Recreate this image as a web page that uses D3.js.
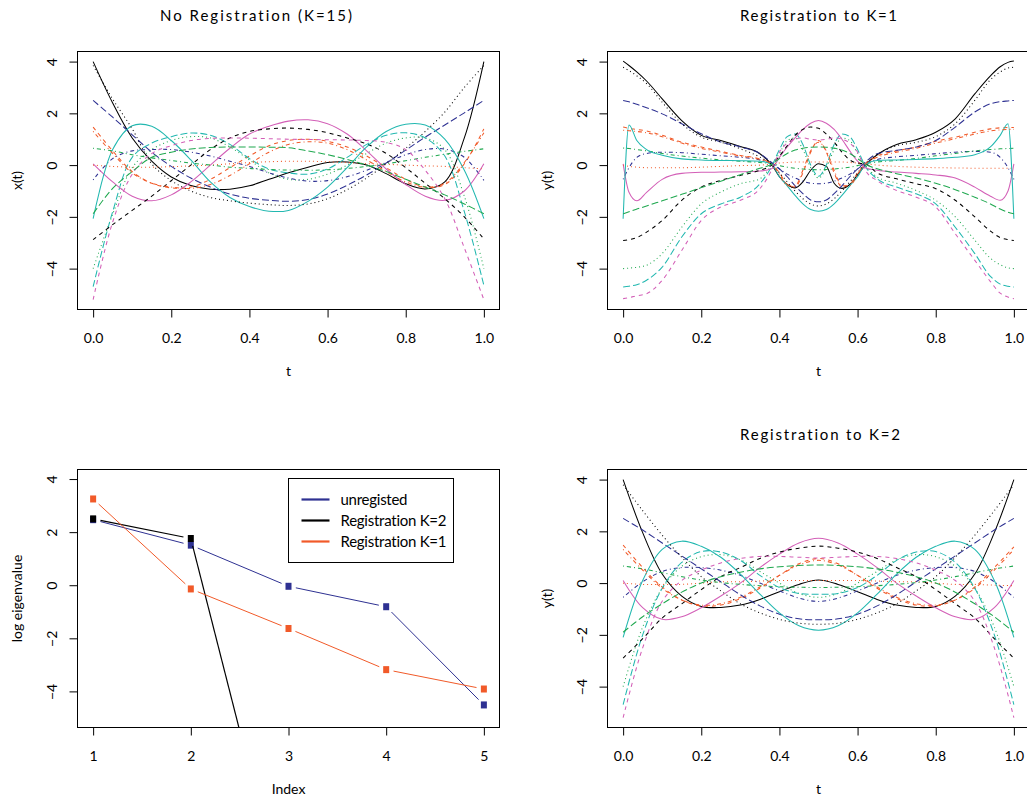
<!DOCTYPE html>
<html><head><meta charset="utf-8">
<script src="https://cdn.jsdelivr.net/npm/d3@7"></script>
<style>
body{margin:0;background:#fff}
svg{display:block}
text{font-family:Lato,"Open Sans",sans-serif;fill:#000;font-variant-ligatures:none;font-feature-settings:"liga" 0,"clig" 0}
</style>
</head><body>
<svg id="c" width="1027" height="796"></svg>
<script>
// ---------------- DATA ----------------
const tGrid = [0,0.05,0.1,0.15,0.2,0.25,0.3,0.35,0.4,0.45,0.5,0.55,0.6,0.65,0.7,0.75,0.8,0.85,0.9,0.95,1.0];
const tGridK1 = [0,0.015,0.035,0.06,0.1,0.15,0.2,0.25,0.3,0.35,0.38,0.4,0.42,0.44,0.46,0.48,0.5,0.52,0.54,0.56,0.58,0.6,0.62,0.65,0.7,0.75,0.8,0.85,0.9,0.94,0.965,0.985,1.0];
const xTicks = [0,0.2,0.4,0.6,0.8,1.0];
const yTicks = [-4,-2,0,2,4];

// No registration x(t), 15 curves
const noRegCurves = [
 [4.0,2.4,1.05,0.15,-0.46,-0.79,-0.93,-0.93,-0.8,-0.55,-0.3,-0.08,0.1,0.12,0.0,-0.33,-0.72,-0.92,-0.65,1.05,4.0],
 [1.47,0.55,-0.25,-0.7,-0.88,-0.85,-0.55,-0.1,0.35,0.75,0.95,1.0,0.92,0.7,0.35,-0.1,-0.55,-0.85,-0.75,0.05,1.4],
 [-4.0,-1.9,-0.1,0.6,0.95,1.1,1.05,0.7,0.2,-0.3,-0.55,-0.55,-0.35,0.0,0.45,0.85,1.05,1.05,0.6,-1.2,-4.0],
 [-0.57,0.25,0.55,0.6,0.6,0.5,0.35,0.15,-0.05,-0.3,-0.5,-0.62,-0.6,-0.45,-0.2,0.1,0.4,0.6,0.62,0.3,-0.59],
 [-4.7,-1.8,0.3,0.85,1.1,1.24,1.15,0.8,0.25,-0.15,-0.3,-0.35,-0.15,0.3,0.8,1.15,1.25,1.05,0.35,-1.8,-4.65],
 [0.05,-0.65,-1.2,-1.38,-1.15,-0.65,0.0,0.65,1.2,1.5,1.7,1.75,1.6,1.2,0.55,-0.15,-0.75,-1.2,-1.36,-1.0,0.05],
 [-2.88,-2.3,-1.75,-1.2,-0.6,0.0,0.6,1.05,1.3,1.4,1.43,1.38,1.25,1.05,0.82,0.45,-0.1,-0.7,-1.3,-2.0,-2.85],
 [0.0,-0.05,-0.08,-0.08,-0.06,-0.03,0.0,0.05,0.1,0.13,0.15,0.15,0.13,0.1,0.06,0.03,0.0,-0.03,-0.05,-0.1,-0.15],
 [0.65,0.55,0.4,0.28,0.18,0.08,0.0,-0.08,-0.13,-0.17,-0.19,-0.2,-0.18,-0.13,-0.05,0.05,0.17,0.3,0.42,0.53,0.63],
 [2.5,1.85,1.17,0.5,-0.05,-0.5,-0.85,-1.12,-1.28,-1.36,-1.4,-1.33,-1.12,-0.78,-0.38,0.08,0.58,1.08,1.55,2.02,2.5],
 [-2.07,0.6,1.52,1.5,0.95,0.2,-0.65,-1.25,-1.6,-1.78,-1.75,-1.4,-0.85,-0.1,0.7,1.3,1.58,1.55,1.0,-0.2,-2.07],
 [-5.2,-2.2,-0.35,0.45,0.75,0.95,1.03,1.05,1.04,1.02,1.0,0.99,0.98,0.97,0.95,0.88,0.6,-0.2,-1.3,-3.2,-5.2],
 [3.85,2.55,1.4,0.05,-0.6,-1.0,-1.25,-1.38,-1.47,-1.53,-1.56,-1.5,-1.3,-0.95,-0.5,0.05,0.65,1.3,2.05,3.0,3.85],
 [1.3,0.45,-0.3,-0.7,-0.85,-0.9,-0.75,-0.4,0.05,0.5,0.8,0.9,0.85,0.6,0.2,-0.25,-0.65,-0.85,-0.7,0.1,1.25],
 [-1.88,-0.9,-0.25,0.3,0.5,0.62,0.68,0.7,0.7,0.69,0.67,0.55,0.4,0.22,0.0,-0.25,-0.55,-0.85,-1.15,-1.5,-1.88]
];

// Registration to K=1, y(t) on tGridK1
const regK1Curves = [
 [4.02,3.85,3.6,3.25,2.56,1.72,1.15,0.95,0.72,0.44,0.02,-0.45,-0.75,-0.88,-0.65,-0.2,0.05,-0.05,-0.7,-0.9,-0.75,-0.38,0.0,0.4,0.8,0.98,1.27,1.79,2.75,3.45,3.8,3.97,4.02],
 [1.47,1.42,1.38,1.32,1.15,0.89,0.7,0.53,0.37,0.24,0.05,-0.3,-0.75,-0.85,-0.3,0.5,0.95,0.5,-0.3,-0.85,-0.75,-0.3,0.05,0.35,0.55,0.7,0.92,1.08,1.27,1.4,1.44,1.45,1.45],
 [-4.0,-3.98,-3.95,-3.87,-3.42,-2.4,-1.5,-1.04,-0.72,-0.53,0.0,0.45,0.95,1.05,0.6,-0.1,-0.5,-0.1,0.6,1.05,0.95,0.45,0.0,-0.46,-0.7,-0.98,-1.36,-2.0,-2.9,-3.6,-3.85,-3.97,-4.0],
 [-0.55,-0.1,0.3,0.45,0.5,0.48,0.42,0.36,0.3,0.2,0.05,-0.15,-0.35,-0.5,-0.62,-0.7,-0.72,-0.7,-0.62,-0.5,-0.35,-0.15,0.05,0.22,0.32,0.38,0.44,0.5,0.53,0.5,0.3,-0.1,-0.55],
 [-4.71,-4.68,-4.62,-4.45,-3.94,-2.78,-1.88,-1.5,-1.24,-0.72,-0.05,0.6,1.1,1.2,0.8,0.0,-0.43,0.0,0.8,1.2,1.1,0.6,-0.05,-0.53,-0.85,-1.11,-1.5,-2.4,-3.42,-4.3,-4.6,-4.68,-4.71],
 [0.05,-1.05,-1.38,-1.05,-0.55,-0.32,-0.28,-0.27,-0.26,-0.23,-0.14,0.3,0.7,1.05,1.38,1.62,1.72,1.62,1.38,1.0,0.55,0.15,-0.1,-0.2,-0.27,-0.32,-0.38,-0.5,-0.85,-1.2,-1.36,-1.0,0.05],
 [-2.91,-2.88,-2.8,-2.59,-2.14,-1.36,-0.85,-0.59,-0.4,-0.2,0.0,0.35,0.75,1.15,1.38,1.47,1.42,1.2,0.89,0.5,0.2,0.08,0.05,-0.3,-0.53,-0.72,-0.91,-1.36,-2.0,-2.55,-2.8,-2.88,-2.91],
 [0.0,-0.05,-0.08,-0.1,-0.1,-0.1,-0.08,-0.05,-0.02,0.0,0.04,0.08,0.1,0.12,0.12,0.12,0.12,0.12,0.12,0.12,0.1,0.08,0.05,0.0,-0.05,-0.08,-0.1,-0.11,-0.12,-0.12,-0.12,-0.12,-0.12],
 [0.66,0.64,0.6,0.55,0.45,0.35,0.27,0.2,0.15,0.1,0.05,-0.02,-0.08,-0.12,-0.15,-0.17,-0.18,-0.17,-0.15,-0.12,-0.08,-0.02,0.05,0.12,0.18,0.26,0.36,0.45,0.55,0.6,0.63,0.64,0.65],
 [2.5,2.45,2.35,2.22,1.98,1.6,1.21,0.89,0.7,0.44,0.1,-0.15,-0.45,-0.8,-1.1,-1.35,-1.42,-1.35,-1.1,-0.8,-0.45,-0.15,0.12,0.44,0.57,0.7,0.95,1.47,2.05,2.37,2.45,2.48,2.5],
 [-2.07,1.55,0.95,0.6,0.38,0.24,0.2,0.18,0.17,0.15,0.03,-0.45,-0.8,-1.17,-1.5,-1.72,-1.78,-1.72,-1.5,-1.17,-0.8,-0.45,0.03,0.18,0.2,0.22,0.25,0.3,0.4,0.7,1.15,1.6,-2.07],
 [-5.16,-5.12,-5.05,-4.97,-4.45,-3.3,-2.14,-1.62,-1.36,-0.91,-0.2,0.5,0.85,1.0,1.05,1.0,0.97,1.0,1.05,1.0,0.85,0.5,-0.2,-0.6,-0.98,-1.24,-1.62,-2.65,-3.68,-4.5,-4.95,-5.1,-5.16],
 [3.78,3.65,3.45,3.15,2.43,1.6,1.08,0.89,0.63,0.31,0.03,-0.3,-0.65,-1.0,-1.3,-1.5,-1.58,-1.5,-1.3,-1.0,-0.65,-0.3,0.05,0.4,0.75,0.88,1.1,1.6,2.5,3.3,3.6,3.75,3.78],
 [1.35,1.33,1.3,1.25,1.1,0.85,0.65,0.5,0.35,0.22,0.05,-0.35,-0.8,-0.8,-0.2,0.55,0.88,0.55,-0.2,-0.8,-0.8,-0.35,0.05,0.3,0.5,0.65,0.85,1.02,1.2,1.32,1.36,1.38,1.38],
 [-1.88,-1.8,-1.7,-1.58,-1.38,-1.13,-0.87,-0.62,-0.37,-0.12,0.03,0.25,0.45,0.58,0.65,0.69,0.7,0.69,0.65,0.58,0.45,0.25,0.03,-0.14,-0.33,-0.5,-0.7,-0.95,-1.24,-1.5,-1.7,-1.82,-1.88]
];

// Registration to K=2, y(t) on tGrid
const regK2Curves = [
 [4.0,1.95,0.35,-0.5,-0.9,-0.94,-0.85,-0.63,-0.33,-0.05,0.12,-0.05,-0.33,-0.63,-0.85,-0.94,-0.9,-0.5,0.35,1.95,4.0],
 [1.47,0.6,-0.15,-0.65,-0.88,-0.85,-0.6,-0.2,0.3,0.75,0.95,0.75,0.3,-0.2,-0.6,-0.85,-0.88,-0.65,-0.15,0.6,1.4],
 [-4.0,-1.7,-0.2,0.65,1.02,1.1,0.9,0.45,0.0,-0.4,-0.55,-0.4,0.0,0.45,0.9,1.1,1.02,0.65,-0.2,-1.7,-4.0],
 [-0.55,0.05,0.45,0.6,0.6,0.5,0.3,0.0,-0.3,-0.58,-0.71,-0.58,-0.3,0.0,0.3,0.5,0.6,0.6,0.45,0.05,-0.55],
 [-4.7,-2.0,-0.2,0.8,1.22,1.2,0.88,0.3,-0.17,-0.4,-0.43,-0.4,-0.17,0.3,0.88,1.2,1.22,0.8,-0.2,-2.0,-4.7],
 [0.1,-0.95,-1.4,-1.3,-0.95,-0.5,0.0,0.6,1.12,1.55,1.73,1.55,1.12,0.6,0.0,-0.5,-0.95,-1.3,-1.4,-0.95,0.1],
 [-2.9,-2.15,-1.35,-0.8,-0.25,0.25,0.6,0.95,1.2,1.35,1.43,1.35,1.2,0.95,0.6,0.25,-0.25,-0.8,-1.35,-2.15,-2.9],
 [0.0,-0.05,-0.05,-0.05,0.0,0.05,0.05,0.08,0.1,0.1,0.1,0.1,0.1,0.08,0.05,0.05,0.0,-0.05,-0.05,-0.08,-0.1],
 [0.66,0.55,0.4,0.25,0.12,0.02,-0.05,-0.1,-0.14,-0.16,-0.17,-0.16,-0.14,-0.1,-0.05,0.02,0.12,0.25,0.4,0.55,0.66],
 [2.5,2.05,1.55,1.05,0.55,0.05,-0.45,-0.88,-1.2,-1.38,-1.42,-1.38,-1.2,-0.88,-0.45,0.05,0.55,1.05,1.55,2.05,2.5],
 [-2.1,0.1,1.3,1.62,1.42,1.0,0.35,-0.43,-1.15,-1.65,-1.82,-1.65,-1.15,-0.43,0.35,1.0,1.42,1.62,1.3,0.1,-2.1],
 [-5.2,-2.5,-0.7,0.1,0.5,0.78,0.95,1.03,1.03,1.0,0.97,1.0,1.03,1.03,0.95,0.78,0.5,0.1,-0.7,-2.5,-5.2],
 [3.8,2.8,1.85,1.0,0.25,-0.3,-0.8,-1.15,-1.4,-1.55,-1.59,-1.55,-1.4,-1.15,-0.8,-0.3,0.25,1.0,1.85,2.8,3.8],
 [1.3,0.5,-0.2,-0.65,-0.85,-0.8,-0.55,-0.15,0.3,0.7,0.88,0.7,0.3,-0.15,-0.55,-0.8,-0.85,-0.65,-0.2,0.5,1.3],
 [-1.9,-1.3,-0.8,-0.35,0.0,0.25,0.42,0.55,0.63,0.68,0.7,0.68,0.63,0.55,0.42,0.25,0.0,-0.35,-0.8,-1.3,-1.9]
];

// Log eigenvalues
const eigIndex = [1,2,3,4,5];
const eigUnreg = [2.47,1.51,-0.04,-0.81,-4.51];
const eigRegK2 = [2.5,1.76,-12.7,-14.5,-16.0];
const eigRegK1 = [3.25,-0.14,-1.63,-3.18,-3.91];
const legendLabels = ["unregisted","Registration K=2","Registration K=1"];
const titles = ["No Registration (K=15)","Registration to K=1","Registration to K=2"];

// ---------------- STYLE ----------------
const pal = ["#000000","#F15A29","#1FA84F","#2E3192","#22B8B0","#D35FB7"];
const dashes = [null,"4,4","1,3","1,3,4,3","7,3"];
const cBlue = "#2E3192", cBlack = "#000000", cOrange = "#F15A29";

const svg = d3.select("#c");
const panelW = 422, panelH = 258;
const cols = [77.5, 607.5], rows = [51.5, 469.5];
const yDomCurves = [-5.58, 4.39];
const xDomT = [-0.04, 1.04];
const minus = d => d < 0 ? "\u2212" + (-d) : String(d);

let clipId = 0;
function makeClip(x0, y0){
  const id = "clip" + (clipId++);
  svg.append("clipPath").attr("id", id).append("rect")
    .attr("x", x0).attr("y", y0).attr("width", panelW).attr("height", panelH);
  return "url(#" + id + ")";
}

function drawAxes(x0, y0, xs, ys, xtv, xfmt){
  const gx = svg.append("g").attr("transform", `translate(0,${y0 + panelH})`)
    .call(d3.axisBottom(xs).tickValues(xtv).tickSize(8).tickPadding(16).tickFormat(xfmt));
  gx.select(".domain").remove();
  gx.selectAll(".tick line").attr("stroke", "#000");
  gx.selectAll("text").attr("font-family", "Lato").attr("font-size", 14).attr("fill", "#000");
  gx.attr("font-family", null).attr("font-size", null);

  const gy = svg.append("g").attr("transform", `translate(${x0},0)`)
    .call(d3.axisLeft(ys).tickValues(yTicks).tickSize(8).tickFormat(minus));
  gy.select(".domain").remove();
  gy.selectAll(".tick line").attr("stroke", "#000");
  gy.selectAll("text").attr("x", null).attr("dy", null)
    .attr("transform", "translate(-21,0) rotate(-90)")
    .attr("text-anchor", "middle").attr("font-family", "Lato").attr("font-size", 14).attr("fill", "#000");
  gy.attr("font-family", null).attr("font-size", null);

  svg.append("rect").attr("x", x0).attr("y", y0).attr("width", panelW).attr("height", panelH)
    .attr("fill", "none").attr("stroke", "#000").attr("stroke-width", 1);
}

function axisLabels(x0, y0, xlab, ylab){
  svg.append("text").attr("x", x0 + panelW/2).attr("y", y0 + panelH + 66)
    .attr("text-anchor", "middle").attr("font-size", 14).text(xlab);
  svg.append("text").attr("transform", `translate(${x0 - 56},${y0 + panelH/2}) rotate(-90)`)
    .attr("text-anchor", "middle").attr("font-size", 14).text(ylab);
}

function curvePanel(x0, y0, tArr, curves, ylab, curveType){
  const xs = d3.scaleLinear().domain(xDomT).range([x0, x0 + panelW]);
  const ys = d3.scaleLinear().domain(yDomCurves).range([y0 + panelH, y0]);
  const line = d3.line().x((d, i) => xs(tArr[i])).y(d => ys(d)).curve(curveType);
  const g = svg.append("g").attr("clip-path", makeClip(x0, y0));
  curves.forEach((c, i) => {
    g.append("path").attr("d", line(c)).attr("fill", "none")
      .attr("stroke", pal[i % 6]).attr("stroke-width", 1.05)
      .attr("stroke-dasharray", dashes[i % 5]);
  });
  drawAxes(x0, y0, xs, ys, xTicks, d3.format(".1f"));
  axisLabels(x0, y0, "t", ylab);
}

// Panels with curves
curvePanel(cols[0], rows[0], tGrid, noRegCurves, "x(t)", d3.curveCatmullRom.alpha(0.5));
curvePanel(cols[1], rows[0], tGridK1, regK1Curves, "y(t)", d3.curveMonotoneX);
curvePanel(cols[1], rows[1], tGrid, regK2Curves, "y(t)", d3.curveCatmullRom.alpha(0.5));

// Titles
function title(txt, x, y, len){
  svg.append("text").attr("x", x).attr("y", y).attr("font-size", 15)
    .attr("textLength", len).attr("lengthAdjust", "spacing").text(txt);
}
title(titles[0], 160, 21, 192);
title(titles[1], 740, 21, 157);
title(titles[2], 740, 440, 160);

// Eigenvalue panel
(function(){
  const x0 = cols[0], y0 = rows[1];
  const xs = d3.scaleLinear().domain([0.84, 5.16]).range([x0, x0 + panelW]);
  const ys = d3.scaleLinear().domain([-5.36, 4.36]).range([y0 + panelH, y0]);
  const g = svg.append("g").attr("clip-path", makeClip(x0, y0));
  const gap = 7.5;
  function typeB(vals, col, sw){
    const pts = vals.map((v, i) => [xs(eigIndex[i]), ys(v)]);
    for (let i = 0; i < pts.length - 1; i++){
      const [ax, ay] = pts[i], [bx, by] = pts[i+1];
      const dx = bx - ax, dy = by - ay, L = Math.hypot(dx, dy);
      if (L <= 2*gap) continue;
      const ux = dx/L, uy = dy/L;
      g.append("line").attr("x1", ax + ux*gap).attr("y1", ay + uy*gap)
        .attr("x2", bx - ux*gap).attr("y2", by - uy*gap)
        .attr("stroke", col).attr("stroke-width", sw);
    }
    pts.forEach(p => g.append("rect").attr("x", p[0]-3).attr("y", p[1]-3.5)
      .attr("width", 6).attr("height", 7).attr("fill", col));
  }
  typeB(eigUnreg, cBlue, 1);
  typeB(eigRegK2, cBlack, 1.2);
  typeB(eigRegK1, cOrange, 1);
  drawAxes(x0, y0, xs, ys, eigIndex, d3.format("d"));
  axisLabels(x0, y0, "Index", "log eigenvalue");

  // legend
  const lx = 288.5, ly = 478.5;
  svg.append("rect").attr("x", lx).attr("y", ly).attr("width", 165).attr("height", 84)
    .attr("fill", "#fff").attr("stroke", "#000").attr("stroke-width", 1);
  const lcols = [cBlue, cBlack, cOrange];
  const lens = [67, 106, 106];
  legendLabels.forEach((lab, i) => {
    const yy = ly + 21 + i*21;
    svg.append("line").attr("x1", lx + 13).attr("x2", lx + 41).attr("y1", yy).attr("y2", yy)
      .attr("stroke", lcols[i]).attr("stroke-width", 2.2);
    svg.append("text").attr("x", lx + 52).attr("y", yy + 5).attr("font-size", 15)
      .attr("textLength", lens[i]).attr("lengthAdjust", "spacing").text(lab);
  });
})();
</script>
</body></html>
